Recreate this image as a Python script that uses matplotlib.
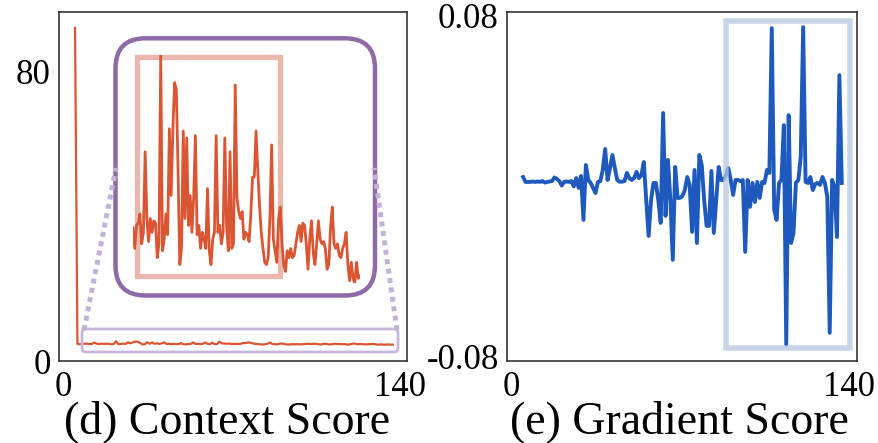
import matplotlib
matplotlib.use('Agg')
import matplotlib.pyplot as plt
from matplotlib.patches import FancyBboxPatch, Rectangle

plt.rcParams['font.family'] = ['Liberation Serif', 'DejaVu Serif']
plt.rcParams['axes.unicode_minus'] = False

# ---------------- data ----------------
token_idx = list(range(5, 138))

context_score = [
    92.2,
    4.75, 4.66, 4.76, 4.77, 4.81, 4.68, 4.73, 5.08, 4.79, 4.69,
    4.79, 4.73, 4.78, 4.77, 4.62, 4.68, 5.50, 4.65, 4.70, 4.81,
    4.72, 5.18, 4.89, 5.17, 5.38, 5.35, 5.00, 4.59, 4.66, 5.17,
    4.79, 5.14, 4.76, 4.89, 4.73, 4.88, 5.15, 4.72, 4.76, 4.66,
    4.73, 4.70, 4.66, 4.92, 4.65, 4.59, 4.70, 4.73, 5.15, 4.73,
    4.76, 4.68, 4.73, 5.14, 4.76, 4.65, 5.08, 4.66, 4.68, 5.37,
    4.88, 4.82, 4.79, 4.82, 4.70, 4.73, 4.72, 4.69, 4.81, 4.97,
    4.97, 5.17, 5.00, 4.85, 4.73, 4.66, 4.60, 4.59, 4.62, 4.79,
    5.11, 4.70, 4.65, 4.60, 4.79, 4.84, 4.68, 4.59, 4.56, 4.65,
    4.62, 4.66, 4.62, 4.63, 4.68, 4.73, 4.76, 4.69, 4.77, 4.76,
    4.68, 4.57, 4.70, 4.78, 4.64, 4.59, 4.68, 4.78, 4.70, 4.68,
    4.69, 4.66, 4.57, 4.59, 4.75, 4.84, 4.68, 4.66, 4.68, 4.63,
    4.62, 4.66, 4.68, 4.73, 4.59, 4.52, 4.60, 4.53, 4.51, 4.60,
    4.53, 4.54,
]

gradient_score = [
    0.0042, 0.0019, 0.0019, 0.0019, 0.0021, 0.0019, 0.0021, 0.0019, 0.0023, 0.0016,
    0.0019, 0.0021, 0.0023, 0.0040, 0.0033, 0.0023, 0.0002, 0.0019, 0.0021, 0.0019,
    0.0023, -0.0002, 0.0037, -0.0009, 0.0047, -0.0159, 0.0098, 0.0028, 0.0014, -0.0009,
    -0.0033, 0.0019, 0.0023, 0.0075, 0.0173, 0.0028, 0.0084, 0.0145, 0.0084, 0.0028,
    0.0020, 0.0020, 0.0023, 0.0061, 0.0037, 0.0028, 0.0037, 0.0066, 0.0037, 0.0051,
    0.0112, -0.0066, -0.0234, -0.0066, 0.0014, 0.0014, -0.0066, -0.0173, 0.0342, -0.0140,
    0.0122, -0.0066, -0.0346, 0.0089, -0.0056, -0.0056, -0.0047, -0.0019, 0.0042, 0.0005,
    -0.0215, 0.0075, -0.0267, 0.0145, 0.0098, -0.0066, -0.0187, -0.0187, 0.0070, -0.0220,
    -0.0066, 0.0089, 0.0028, 0.0028, 0.0051, 0.0084, 0.0028, -0.0042, 0.0028, 0.0028,
    0.0023, 0.0028, -0.0309, 0.0028, -0.0098, 0.0014, -0.0075, 0.0019, -0.0056, 0.0019,
    0.0014, 0.0075, 0.0061, 0.0739, -0.0112, -0.0159, 0.0014, 0.0028, 0.0285, -0.0744,
    0.0332, -0.0267, -0.0220, 0.0014, 0.0028, 0.0136, 0.0744, 0.0019, 0.0014, 0.0042,
    -0.0019, 0.0009, 0.0014, 0.0005, 0.0042, 0.0014, -0.0051, -0.0688, 0.0028, -0.0005,
    -0.0239, 0.0519, 0.0014,
]

x_ticks = [0, 140]
ctx_yticks = [0, 80]
grad_yticks = [-0.08, 0.08]
grad_ytick_labels = ['-0.08', '0.08']
captions = ['(d) Context Score', '(e) Gradient Score']

# ---------------- style ----------------
ORANGE = '#dc5532'
BLUE = '#1e5abe'
SPINE = '#333333'
W, H = 879, 443
TICK_FS = 25
CAP_FS = 33

fig = plt.figure(figsize=(W / 100, H / 100), dpi=100)


def px_rect(x0, y0, x1, y1):
    return [x0 / W, 1 - y1 / H, (x1 - x0) / W, (y1 - y0) / H]


def style_axes(ax):
    for s in ax.spines.values():
        s.set_color(SPINE)
        s.set_linewidth(1.2)
    ax.tick_params(length=0, labelsize=TICK_FS)
    ax.tick_params(axis='x', pad=7)
    ax.tick_params(axis='y', pad=6)


# Left: context score
ax1 = fig.add_axes(px_rect(59, 12, 407, 361), zorder=1)
ax1.plot(token_idx, context_score, color=ORANGE, lw=1.6)
ax1.set_xlim(-1.66, 142.9)
ax1.set_ylim(0, 96.6)
ax1.set_xticks(x_ticks)
ax1.set_yticks(ctx_yticks)
style_axes(ax1)

# Right: gradient score
ax2 = fig.add_axes(px_rect(507, 12, 857, 361), zorder=1)
ax2.plot(token_idx, gradient_score, color=BLUE, lw=2.8)
ax2.set_xlim(-1.66, 143.3)
ax2.set_ylim(-0.082, 0.0815)
ax2.set_xticks(x_ticks)
ax2.set_yticks(grad_yticks)
ax2.set_yticklabels(grad_ytick_labels)
style_axes(ax2)

# Overlay in pixel coordinates for decorations
ov = fig.add_axes([0, 0, 1, 1], zorder=2)
ov.set_xlim(0, W)
ov.set_ylim(H, 0)
ov.axis('off')
ov.patch.set_alpha(0)

dot_c = '#c4b1d8'
ov.plot([84, 116], [330, 168], color=dot_c, lw=3.6, ls=(0, (1, 0.9)),
        dash_capstyle='butt')
ov.plot([397, 374], [330, 168], color=dot_c, lw=3.6, ls=(0, (1, 0.9)),
        dash_capstyle='butt')
ov.add_patch(FancyBboxPatch((82, 329), 316, 23,
                            boxstyle='round,pad=0,rounding_size=4',
                            fill=False, ec='#c8b5da', lw=2.0))
ov.add_patch(FancyBboxPatch((115.5, 38.3), 259.5, 257.2,
                            boxstyle='round,pad=0,rounding_size=30',
                            fc='white', ec='#8e6ba6', lw=3.2))
ov.add_patch(Rectangle((137, 57), 143, 218.5, fill=False,
                       ec='#e9b7ae', lw=3.8))
ov.add_patch(Rectangle((725.7, 21), 124.3, 327, fill=False,
                       ec='#b5c7e0', alpha=0.75, lw=4.0))

# Inset: zoomed context score
axi = fig.add_axes(px_rect(133, 55, 360, 283), zorder=3)
axi.patch.set_alpha(0)
axi.axis('off')
axi.plot(token_idx[1:], context_score[1:], color=ORANGE, lw=2.0)
axi.set_xlim(token_idx[1], token_idx[-1])
axi.set_ylim(min(context_score[1:]), max(context_score[1:]))

# Captions
fig.text(227 / W, 1 - 433 / H, captions[0], fontsize=CAP_FS,
         ha='center', va='baseline')
fig.text(679 / W, 1 - 433 / H, captions[1], fontsize=CAP_FS,
         ha='center', va='baseline')

fig.savefig('out.png', dpi=100)
